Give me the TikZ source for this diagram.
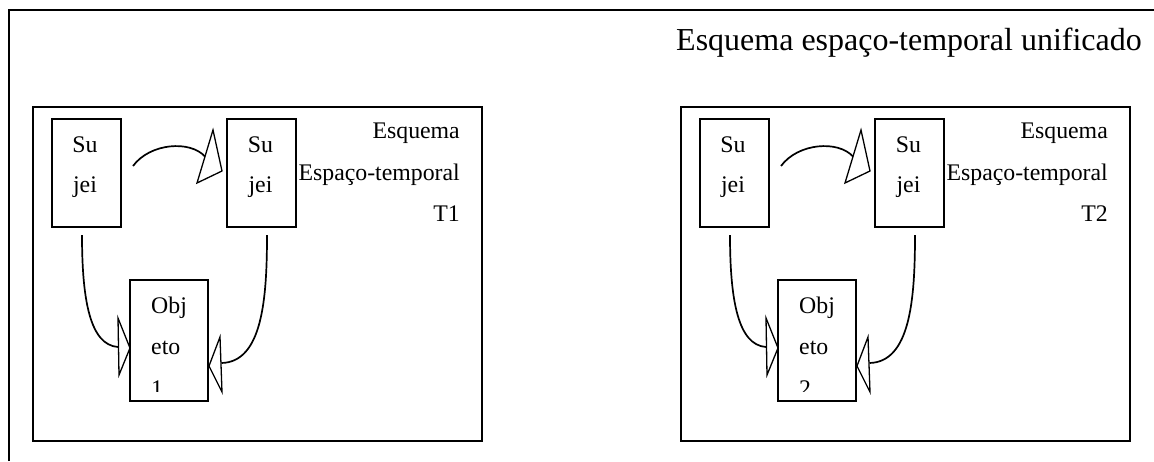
\documentclass[tikz,border=0pt]{standalone}
\usepackage{fontspec}
\setmainfont{Liberation Serif}
\begin{document}
\begin{tikzpicture}[x=1pt,y=-1pt,
  frame/.style={line width=2pt},
  subjbox/.style={draw,line width=1.3pt,minimum width=69pt,minimum height=108pt,inner sep=0pt},
  objbox/.style={draw,line width=1.3pt,minimum width=78pt,minimum height=121pt,inner sep=0pt},
  lbl/.style={font=\fontsize{23.8}{26}\selectfont,inner sep=0pt},
  conn/.style={line width=1.7pt},
  head/.style={line width=1.3pt,fill=white,line join=miter}]
\useasboundingbox (0,0) rectangle (1154,461);
% outer frame (open: top and left)
\coordinate (fb) at (9,461);
\coordinate (fc) at (9,10);
\coordinate (fr) at (1154,10);
\draw[frame] (fb) -- (fc) -- (fr);
\node[anchor=base west,inner sep=0pt,font=\fontsize{32}{34}\selectfont] (title) at (676,50) {Esquema espaço-temporal unificado};
\foreach \dx/\p/\t in {0/a/1,648/b/2}{
  \begin{scope}[xshift=\dx pt]
  \node[draw,frame,minimum width=449pt,minimum height=334pt,inner sep=0pt] (\p frame) at (257.5,274) {};
  \node[subjbox] (\p s1) at (86.5,173) {};
  \node[subjbox] (\p s2) at (261.5,173) {};
  \node[objbox] (\p o) at (169,340.5) {};
  \node[lbl,anchor=base] (\p s1a) at (85,152) {Su};
  \node[lbl,anchor=base] (\p s1b) at (85,192) {jei};
  \node[lbl,anchor=base] (\p s2a) at (260.5,152) {Su};
  \node[lbl,anchor=base] (\p s2b) at (260.5,192) {jei};
  \node[lbl,anchor=base west] (\p oa) at (151,313) {Obj};
  \node[lbl,anchor=base west] (\p ob) at (151,354) {eto};
  \begin{scope}
    \clip (131,360) rectangle (207,391);
    \node[lbl,anchor=base west] (\p oc) at (151,396) {\t};
  \end{scope}
  \node[lbl,anchor=base east] (\p ta) at (460,138) {Esquema};
  \node[lbl,anchor=base east] (\p tb) at (460,180) {Espaço-temporal};
  \node[lbl,anchor=base east] (\p tc) at (460,221) {T\t};
  % connectors
  \coordinate (\p c1) at (133,166);
  \coordinate (\p h1) at (205,156.5);
  \draw[conn] (\p c1) .. controls (150,143) and (190,140) .. (\p h1);
  \draw[head] (213,130) -- (222,171) -- (197,183) -- cycle;
  \coordinate (\p c2) at (82,235);
  \coordinate (\p h2) at (118,347);
  \draw[conn] (\p c2) .. controls (82,300) and (90,345) .. (\p h2);
  \draw[head] (118,318) -- (130,348) -- (119,375) -- cycle;
  \coordinate (\p c3) at (267,235);
  \coordinate (\p h3) at (221.5,363);
  \draw[conn] (\p c3) .. controls (267,300) and (262,362) .. (\p h3);
  \draw[head] (220,337) -- (209,366) -- (222,392) -- cycle;
  \end{scope}
}
\end{tikzpicture}
\end{document}
